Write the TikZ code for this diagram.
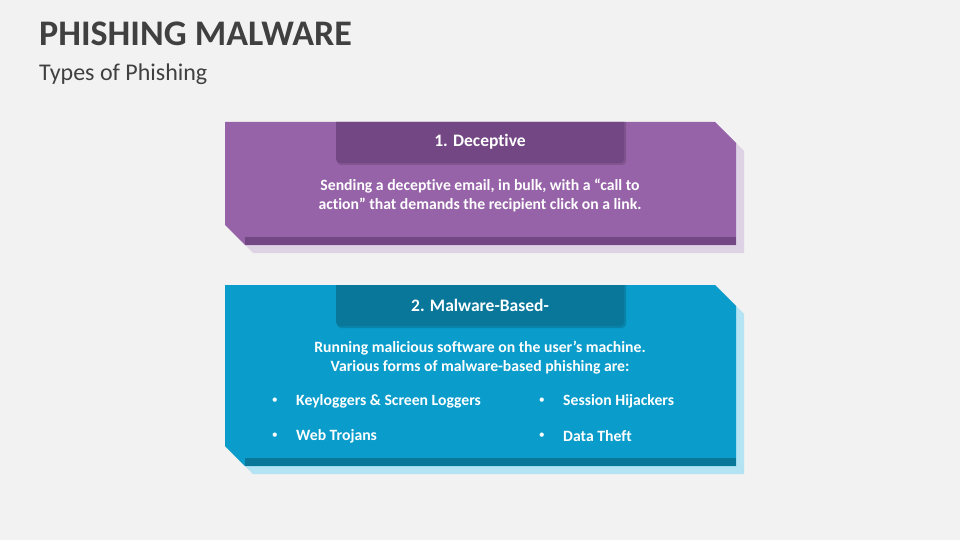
\documentclass[tikz,border=0pt]{standalone}
\usepackage{fontspec}
\setmainfont{Carlito}[Ligatures=NoCommon]
\usetikzlibrary{positioning}

\definecolor{bgcol}{HTML}{F2F2F2}
\definecolor{titlecol}{HTML}{404040}
\definecolor{purplemain}{HTML}{9763A8}
\definecolor{purpledark}{HTML}{734784}
\definecolor{purpleshade}{HTML}{DED2E5}
\definecolor{bluemain}{HTML}{0A9CCA}
\definecolor{bluedark}{HTML}{08779A}
\definecolor{blueshade}{HTML}{B4E4F3}

\begin{document}
\begin{tikzpicture}[x=1pt, y=-1pt,
    title/.style={anchor=west, inner sep=0pt, text=titlecol, font=\fontsize{36}{42}\selectfont\bfseries},
    subtitle/.style={anchor=west, inner sep=0pt, text=titlecol, font=\fontsize{24}{28}\selectfont},
    head/.style={inner sep=0pt, text=white, font=\fontsize{17.5}{20}\selectfont\bfseries},
    body/.style={inner sep=0pt, text=white, align=center, font=\fontsize{15.7}{19}\selectfont\bfseries},
    item/.style={inner sep=0pt, anchor=west, text=white, font=\fontsize{15.7}{19}\selectfont\bfseries},
    dot/.style={inner sep=0pt, text=white, font=\fontsize{12}{14}\selectfont}]
    \fill[bgcol] (0,0) rectangle (960,540);
    \useasboundingbox (0,0) rectangle (960,540);

    \node[title] (title) at (39,34) {PHISHING MALWARE};
    \node[subtitle] (sub) at (39,74) {Types of Phishing};

    % cards: top / bottom / main / dark / shade
    \foreach \t/\b/\cm/\cd/\cs in {122/245/purplemain/purpledark/purpleshade,
                                   285/466/bluemain/bluedark/blueshade} {
        \fill[\cs] (233,\t+8) -- (723,\t+8) -- (744,\t+29) -- (744,\b+8)
            -- (253,\b+8) -- (233,\b-12) -- cycle;
        \fill[\cm] (225,\t) -- (715,\t) -- (736,\t+21) -- (736,\b)
            -- (245,\b) -- (225,\b-20) -- cycle;
        \fill[\cd] (245,\b-8) rectangle (736,\b);
        \fill[black, opacity=0.15] (337,\t) [rounded corners=4] -- (337,\t+43)
            -- (626,\t+43) [sharp corners] -- (626,\t) -- cycle;
        \fill[\cd] (336,\t) [rounded corners=4] -- (336,\t+41)
            -- (624,\t+41) [sharp corners] -- (624,\t) -- cycle;
    }

    \node[head] (h1) at (480,142) {1. Deceptive};
    \node[body] (b1) at (480,195) {Sending a deceptive email, in bulk, with a “call to\\action” that demands the recipient click on a link.};

    \node[head] (h2) at (480,305) {2. Malware-Based-};
    \node[body] (b2) at (480,358) {Running malicious software on the user’s machine.\\Various forms of malware-based phishing are:};

    \node[item] (i1) at (296,401) {Keyloggers \& Screen Loggers};
    \node[item] (i2) at (296,436) {Web Trojans};
    \node[item] (i3) at (563,401) {Session Hijackers};
    \node[item] (i4) at (563,436) {Data Theft};
    \foreach \n in {i1,i2,i3,i4}
        \node[dot, left=18pt of \n.west] {•};
\end{tikzpicture}
\end{document}
